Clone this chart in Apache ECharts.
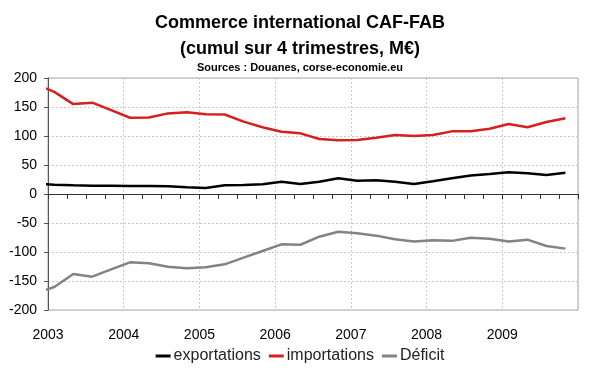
<!DOCTYPE html>
<html>
<head>
<meta charset="utf-8">
<script src="https://cdn.jsdelivr.net/npm/echarts@6/dist/echarts.min.js"></script>
<style>html,body{margin:0;padding:0;background:#fff}#c{width:600px;height:372px}</style>
</head>
<body>
<div id="c"></div>
<script>
// Quarterly points (4-quarter cumulative), dated at the middle month of each quarter
const periods = ["2002-11",
  "2003-02","2003-05","2003-08","2003-11",
  "2004-02","2004-05","2004-08","2004-11",
  "2005-02","2005-05","2005-08","2005-11",
  "2006-02","2006-05","2006-08","2006-11",
  "2007-02","2007-05","2007-08","2007-11",
  "2008-02","2008-05","2008-08","2008-11",
  "2009-02","2009-05","2009-08","2009-11"];
const exportations = [17.5,
  16, 15, 14.4, 14.4,
  13.8, 13.8, 13.2, 11.5,
  10.3, 15, 15.5, 16.7,
  21.3, 17.2, 21.3, 27,
  23, 23.5, 21.3, 17.2,
  21.8, 27, 32, 34.5,
  37.4, 35.6, 32.8, 36.7];
const importations = [189.5,
  176, 155, 157.5, 144.5,
  131.5, 132, 139, 141,
  137.5, 137, 124.7, 115,
  107.4, 104.6, 94.8, 92.5,
  93, 97, 101.7, 100,
  101.7, 108, 108, 112.6,
  120.7, 115, 124, 130.5];
const deficit = [-171,
  -160.3, -138, -142.5, -129.9,
  -117.8, -119.5, -125.3, -128.1,
  -126.4, -121.3, -109.8, -98.3,
  -86.8, -87.5, -73.6, -65,
  -67.8, -71.8, -78, -82,
  -79.8, -80.8, -75.3, -77,
  -82, -78.7, -89.6, -94.2];
const yearTicks = [2003, 2004, 2005, 2006, 2007, 2008, 2009];
const seriesNames = ["exportations", "importations", "Déficit"];
const titleText = "Commerce international CAF-FAB\n(cumul sur 4 trimestres, M€)";
const sourceText = "Sources : Douanes, corse-economie.eu";

function toYear(p) {
  const [y, m] = p.split("-").map(Number);
  return y + (m - 1) / 12;
}
const xs = periods.map(toYear);
const pairs = arr => arr.map((v, i) => [xs[i], v]);

const FONT = "Liberation Sans, Arial, sans-serif";
const chart = echarts.init(document.getElementById("c"), null, {renderer: "canvas"});
chart.setOption({
  animation: false,
  backgroundColor: "#fff",
  title: [
    {text: titleText, left: "center", top: 5,
     textStyle: {fontFamily: FONT, fontSize: 18, fontWeight: "bold", color: "#000", lineHeight: 26}},
    {text: sourceText, left: "center", top: 57,
     textStyle: {fontFamily: FONT, fontSize: 11, fontWeight: "bold", color: "#000"}}
  ],
  legend: {
    bottom: 3, left: "center",
    itemWidth: 15, itemHeight: 3, itemGap: 8, icon: "rect",
    textStyle: {fontFamily: FONT, fontSize: 16, color: "#222", padding: [0, 0, 0, -2]},
    data: seriesNames
  },
  grid: {left: 48, right: 22, top: 78, bottom: 62, show: true, borderColor: "#a6a6a6", borderWidth: 1, backgroundColor: "#fff"},
  xAxis: [
    {type: "value", min: 2003, max: 2010, interval: 1, position: "bottom",
     axisLine: {show: false, onZero: false},
     axisTick: {show: false},
     splitLine: {show: true, lineStyle: {color: "#c8c8c8", type: [2, 2], width: 1}},
     axisLabel: {margin: 18, fontFamily: FONT, fontSize: 14, color: "#000",
       formatter: v => yearTicks.includes(v) ? String(v) : ""}},
    {type: "value", min: 2003, max: 2010, interval: 0.25, position: "bottom",
     axisLine: {show: true, onZero: true, lineStyle: {color: "#333", width: 1}},
     axisTick: {show: true, length: 5, lineStyle: {color: "#333"}},
     splitLine: {show: false},
     axisLabel: {show: false}}
  ],
  yAxis: {
    type: "value", min: -200, max: 200, interval: 50,
    axisLine: {show: true, onZero: false, lineStyle: {color: "#555", width: 1}},
    axisTick: {show: true, length: 4, lineStyle: {color: "#555"}},
    splitLine: {show: true, lineStyle: {color: "#c8c8c8", type: [2, 2], width: 1}},
    axisLabel: {margin: 11, fontFamily: FONT, fontSize: 14, color: "#000"}
  },
  series: [
    {name: seriesNames[0], type: "line", data: pairs(exportations), showSymbol: false, symbol: "none", clip: true,
     lineStyle: {color: "#000", width: 2.5}, itemStyle: {color: "#000"}},
    {name: seriesNames[1], type: "line", data: pairs(importations), showSymbol: false, symbol: "none", clip: true,
     lineStyle: {color: "#d61f1f", width: 2.5}, itemStyle: {color: "#d61f1f"}},
    {name: seriesNames[2], type: "line", data: pairs(deficit), showSymbol: false, symbol: "none", clip: true,
     lineStyle: {color: "#838383", width: 2.5}, itemStyle: {color: "#838383"}}
  ]
});
</script>
</body>
</html>
